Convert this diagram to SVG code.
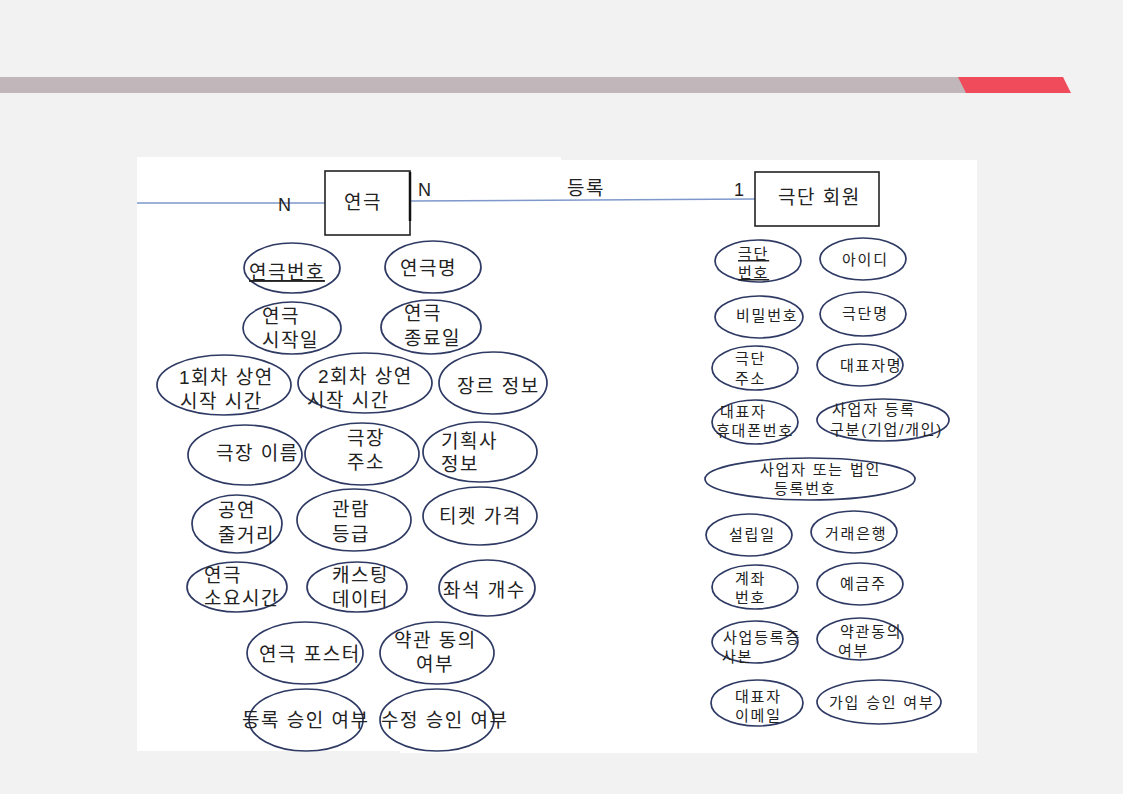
<svg xmlns="http://www.w3.org/2000/svg" width="1123" height="794" viewBox="0 0 1123 794">
<style>
.e{fill:none;stroke:#2e3a63;stroke-width:1.7}
.t{font-family:"Liberation Sans","Noto Sans CJK KR",sans-serif;font-size:19px;fill:#222;letter-spacing:1.5px}
.s{font-family:"Liberation Sans","Noto Sans CJK KR",sans-serif;font-size:15px;fill:#222;letter-spacing:1.8px}
.box{fill:#fff;stroke:#222;stroke-width:1.6}
.ln{stroke:#7e98cc;stroke-width:1.5;fill:none}
.u{text-decoration:underline}
</style>
<rect x="0" y="0" width="1123" height="794" fill="#f2f2f2"/>
<rect x="0" y="77" width="968" height="16" fill="#c1b6b9"/>
<polygon points="958,77 1063,77 1071,93 966,93" fill="#ef4b5a"/>
<rect x="137" y="157" width="424" height="594" fill="#fff"/>
<rect x="400" y="160" width="577" height="593" fill="#fff"/>

<g id="connectors">
<line class="ln" x1="137" y1="203" x2="325" y2="203"/>
<line class="ln" x1="410" y1="201" x2="755" y2="199"/>
<text class="t" x="278" y="211" style="font-size:18px;letter-spacing:0">N</text>
<text class="t" x="418" y="196" style="font-size:18px;letter-spacing:0">N</text>
<text class="t" x="734" y="196" style="font-size:18px;letter-spacing:0">1</text>
<text class="t" x="567" y="195">등록</text>
</g>

<g id="e-play">
<rect class="box" x="325" y="171" width="85" height="64"/>
<line x1="410" y1="172" x2="410" y2="221" stroke="#111" stroke-width="2.5"/>
<text class="t" x="344" y="209">연극</text>
</g>
<g id="e-troupe">
<rect class="box" x="755" y="172" width="124" height="54"/>
<text class="t" x="778" y="204">극단 회원</text>
</g>

<g id="a1"><ellipse class="e" cx="292" cy="268" rx="48" ry="25"/><text class="t u" x="249" y="279">연극번호</text></g>
<g id="a2"><ellipse class="e" cx="433" cy="267" rx="48" ry="26"/><text class="t" x="400" y="275">연극명</text></g>
<g id="a3"><ellipse class="e" cx="292" cy="328" rx="49" ry="26"/><text class="t" x="262" y="323">연극</text><text class="t" x="262" y="347">시작일</text></g>
<g id="a4"><ellipse class="e" cx="431" cy="327" rx="50" ry="27"/><text class="t" x="404" y="320">연극</text><text class="t" x="404" y="345">종료일</text></g>
<g id="a5"><ellipse class="e" cx="224" cy="385" rx="67" ry="30"/><text class="t" x="179" y="384">1회차 상연</text><text class="t" x="180" y="408">시작 시간</text></g>
<g id="a6"><ellipse class="e" cx="365" cy="383" rx="67" ry="30"/><text class="t" x="318" y="383">2회차 상연</text><text class="t" x="307" y="407">시작 시간</text></g>
<g id="a7"><ellipse class="e" cx="493" cy="383" rx="54" ry="31"/><text class="t" x="457" y="393">장르 정보</text></g>
<g id="a8"><ellipse class="e" cx="245" cy="455" rx="57" ry="30"/><text class="t" x="216" y="460">극장 이름</text></g>
<g id="a9"><ellipse class="e" cx="362" cy="454" rx="57" ry="31"/><text class="t" x="347" y="445">극장</text><text class="t" x="347" y="469">주소</text></g>
<g id="a10"><ellipse class="e" cx="480" cy="452" rx="57" ry="30"/><text class="t" x="441" y="448">기획사</text><text class="t" x="441" y="471">정보</text></g>
<g id="a11"><ellipse class="e" cx="237" cy="524" rx="45" ry="29"/><text class="t" x="218" y="517">공연</text><text class="t" x="218" y="542">줄거리</text></g>
<g id="a12"><ellipse class="e" cx="354" cy="520" rx="57" ry="31"/><text class="t" x="332" y="516">관람</text><text class="t" x="332" y="541">등급</text></g>
<g id="a13"><ellipse class="e" cx="480" cy="516" rx="57" ry="29"/><text class="t" x="439" y="523">티켓 가격</text></g>
<g id="a14"><ellipse class="e" cx="237" cy="587" rx="50" ry="25"/><text class="t" x="204" y="582">연극</text><text class="t" x="204" y="605">소요시간</text></g>
<g id="a15"><ellipse class="e" cx="357" cy="587" rx="50" ry="25"/><text class="t" x="332" y="582">캐스팅</text><text class="t" x="332" y="606">데이터</text></g>
<g id="a16"><ellipse class="e" cx="487" cy="588" rx="48" ry="28"/><text class="t" x="443" y="597">좌석 개수</text></g>
<g id="a17"><ellipse class="e" cx="305" cy="653" rx="58" ry="31"/><text class="t" x="259" y="661">연극 포스터</text></g>
<g id="a18"><ellipse class="e" cx="437" cy="653" rx="57" ry="31"/><text class="t" x="394" y="647">약관 동의</text><text class="t" x="416" y="671">여부</text></g>
<g id="a19"><ellipse class="e" cx="306" cy="720" rx="57" ry="31"/><text class="t" x="242" y="727">등록 승인 여부</text></g>
<g id="a20"><ellipse class="e" cx="437" cy="720" rx="57" ry="31"/><text class="t" x="381" y="727">수정 승인 여부</text></g>

<g id="b1"><ellipse class="e" cx="758" cy="261" rx="43" ry="21"/><text class="s u" x="738" y="259">극단</text><text class="s u" x="738" y="278">번호</text></g>
<g id="b2"><ellipse class="e" cx="863" cy="259" rx="43" ry="21"/><text class="s" x="842" y="265">아이디</text></g>
<g id="b3"><ellipse class="e" cx="759" cy="317" rx="44" ry="21"/><text class="s" x="736" y="321">비밀번호</text></g>
<g id="b4"><ellipse class="e" cx="863" cy="314" rx="43" ry="22"/><text class="s" x="842" y="319">극단명</text></g>
<g id="b5"><ellipse class="e" cx="755" cy="368" rx="43" ry="22"/><text class="s" x="735" y="364">극단</text><text class="s" x="735" y="384">주소</text></g>
<g id="b6"><ellipse class="e" cx="860" cy="365" rx="43" ry="21"/><text class="s" x="840" y="371">대표자명</text></g>
<g id="b7"><ellipse class="e" cx="755" cy="422" rx="43" ry="22"/><text class="s" x="720" y="417">대표자</text><text class="s" x="716" y="436">휴대폰번호</text></g>
<g id="b8"><ellipse class="e" cx="883" cy="420" rx="66" ry="21"/><text class="s" x="832" y="415">사업자 등록</text><text class="s" x="830" y="435">구분(기업/개인)</text></g>
<g id="b9"><ellipse class="e" cx="810" cy="479" rx="105" ry="21"/><text class="s" x="760" y="475">사업자 또는 법인</text><text class="s" x="774" y="494">등록번호</text></g>
<g id="b10"><ellipse class="e" cx="749" cy="535" rx="43" ry="21"/><text class="s" x="729" y="540">설립일</text></g>
<g id="b11"><ellipse class="e" cx="854" cy="532" rx="43" ry="21"/><text class="s" x="825" y="539">거래은행</text></g>
<g id="b12"><ellipse class="e" cx="755" cy="587" rx="43" ry="22"/><text class="s" x="735" y="584">계좌</text><text class="s" x="735" y="603">번호</text></g>
<g id="b13"><ellipse class="e" cx="860" cy="584" rx="43" ry="21"/><text class="s" x="840" y="589">예금주</text></g>
<g id="b14"><ellipse class="e" cx="755" cy="642" rx="43" ry="21"/><text class="s" x="723" y="643">사업등록증</text><text class="s" x="722" y="662">사본</text></g>
<g id="b15"><ellipse class="e" cx="860" cy="639" rx="43" ry="21"/><text class="s" x="840" y="637">약관동의</text><text class="s" x="838" y="656">여부</text></g>
<g id="b16"><ellipse class="e" cx="757" cy="703" rx="46" ry="23"/><text class="s" x="735" y="702">대표자</text><text class="s" x="735" y="721">이메일</text></g>
<g id="b17"><ellipse class="e" cx="879" cy="702" rx="62" ry="22"/><text class="s" x="829" y="708">가입 승인 여부</text></g>
</svg>
